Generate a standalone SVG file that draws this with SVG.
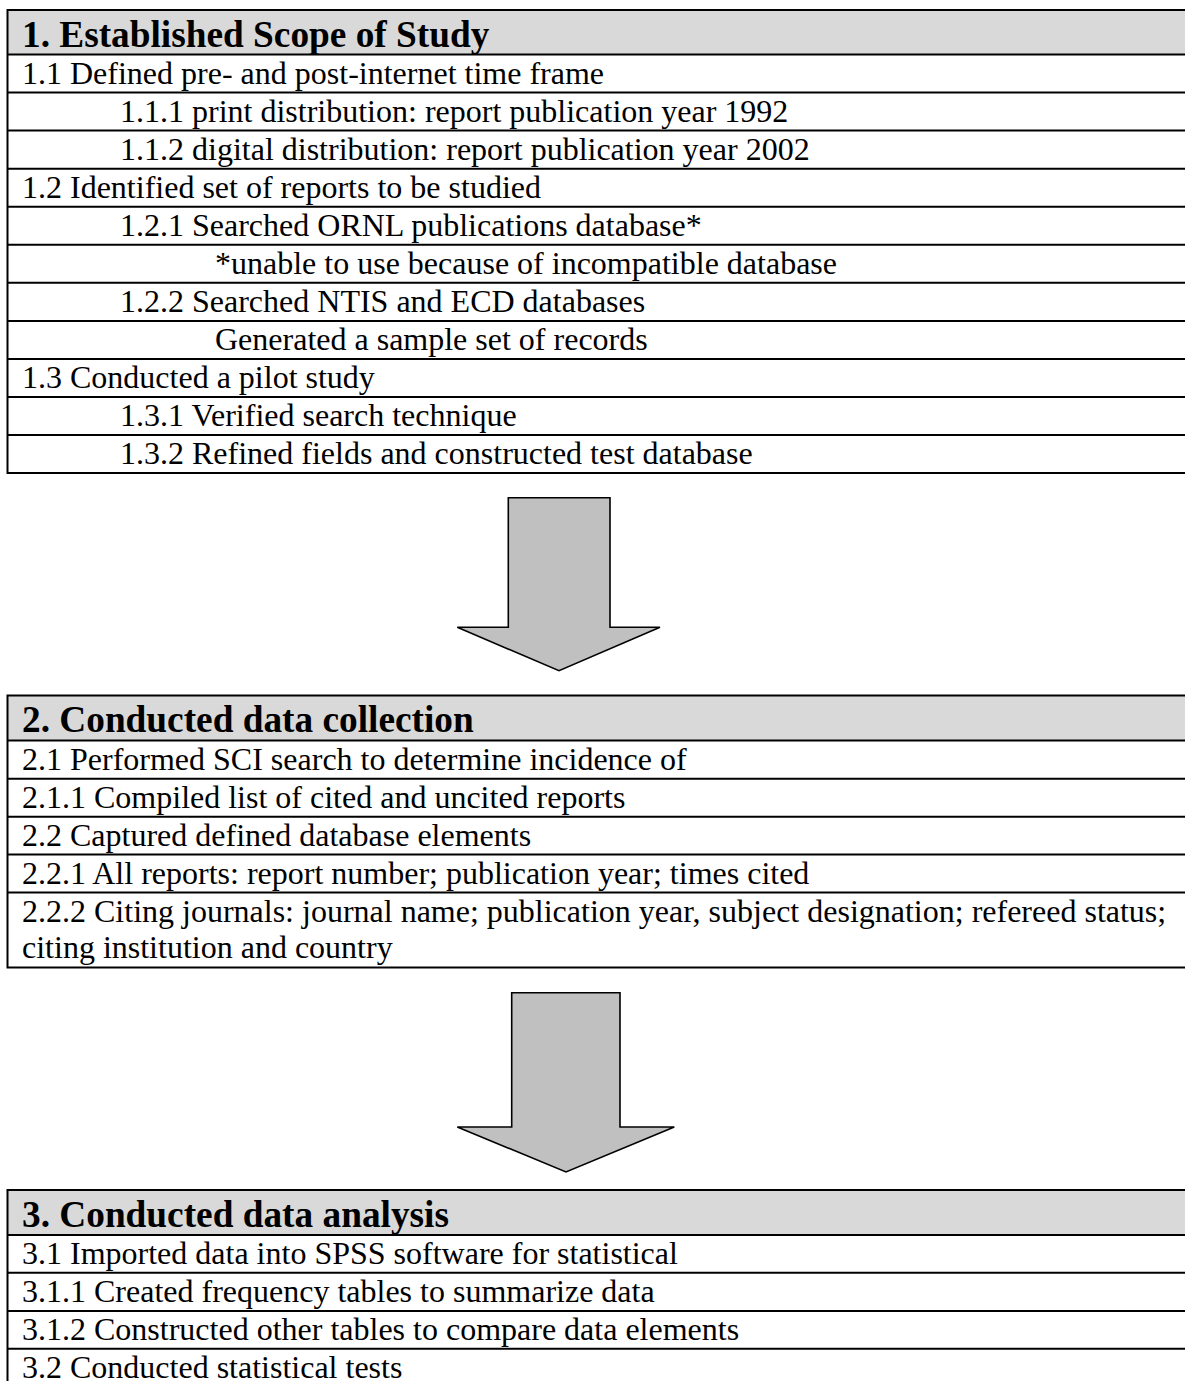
<svg xmlns="http://www.w3.org/2000/svg" width="1185" height="1381" viewBox="0 0 1185 1381">
<style>
.bg{fill:#ffffff}
.hdr{fill:#d9d9d9}
.ln{stroke:#000;stroke-width:2;fill:none}
.h{font-family:"Liberation Serif","Times New Roman",serif;font-weight:bold;font-size:37.3px;fill:#000}
.t{font-family:"Liberation Serif","Times New Roman",serif;font-size:32px;fill:#000}
.arrow{fill:#c0c0c0;stroke:#000;stroke-width:1.6;stroke-linejoin:miter}
</style>
<rect class="bg" x="0" y="0" width="1185" height="1381"/>

<g id="stage1">
<rect class="hdr" x="7.5" y="11" width="1178" height="43.5"/>
<path class="ln" d="M7.5 10H1185M7.5 54.5H1185M7.5 92.5H1185M7.5 130.6H1185M7.5 168.7H1185M7.5 206.7H1185M7.5 244.8H1185M7.5 282.8H1185M7.5 320.9H1185M7.5 358.9H1185M7.5 397H1185M7.5 435H1185M7.5 473H1185M7.5 9V474"/>
<text class="h" x="22" y="46.5">1. Established Scope of Study</text>
<text class="t" x="22" y="83.5">1.1 Defined pre- and post-internet time frame</text>
<text class="t" x="120" y="121.5">1.1.1 print distribution: report publication year 1992</text>
<text class="t" x="120" y="159.6">1.1.2 digital distribution: report publication year 2002</text>
<text class="t" x="22" y="197.6">1.2 Identified set of reports to be studied</text>
<text class="t" x="120" y="235.7">1.2.1 Searched ORNL publications database*</text>
<text class="t" x="215" y="273.7">*unable to use because of incompatible database</text>
<text class="t" x="120" y="311.8">1.2.2 Searched NTIS and ECD databases</text>
<text class="t" x="215" y="349.8">Generated a sample set of records</text>
<text class="t" x="22" y="387.9">1.3 Conducted a pilot study</text>
<text class="t" x="120" y="425.9">1.3.1 Verified search technique</text>
<text class="t" x="120" y="464">1.3.2 Refined fields and constructed test database</text>
</g>

<g id="stage2">
<rect class="hdr" x="7.5" y="696" width="1178" height="44.5"/>
<path class="ln" d="M7.5 695.5H1185M7.5 740.5H1185M7.5 778.7H1185M7.5 816.7H1185M7.5 854.6H1185M7.5 892.6H1185M7.5 967.6H1185M7.5 694.5V968.6"/>
<text class="h" x="22" y="732">2. Conducted data collection</text>
<text class="t" x="22" y="769.5">2.1 Performed SCI search to determine incidence of</text>
<text class="t" x="22" y="807.6">2.1.1 Compiled list of cited and uncited reports</text>
<text class="t" x="22" y="845.6">2.2 Captured defined database elements</text>
<text class="t" x="22" y="883.5">2.2.1 All reports: report number; publication year; times cited</text>
<text class="t" x="22" y="921.6">2.2.2 Citing journals: journal name; publication year, subject designation; refereed status;</text>
<text class="t" x="22" y="958.4">citing institution and country</text>
</g>

<g id="stage3">
<rect class="hdr" x="7.5" y="1190" width="1178" height="45"/>
<path class="ln" d="M7.5 1190H1185M7.5 1235H1185M7.5 1272.8H1185M7.5 1311H1185M7.5 1348.8H1185M7.5 1189V1381"/>
<text class="h" x="22" y="1226.5">3. Conducted data analysis</text>
<text class="t" x="22" y="1264">3.1 Imported data into SPSS software for statistical</text>
<text class="t" x="22" y="1301.8">3.1.1 Created frequency tables to summarize data</text>
<text class="t" x="22" y="1340">3.1.2 Constructed other tables to compare data elements</text>
<text class="t" x="22" y="1377.8">3.2 Conducted statistical tests</text>
</g>

<g id="connectors">
<polygon class="arrow" points="508.3,497.7 610,497.7 610,627.3 660,627.3 559,670.7 457.3,627.3 508.3,627.3"/>
<polygon class="arrow" points="511.7,992.7 620,992.7 620,1127 674.3,1127 566,1172 457.3,1127 511.7,1127"/>
</g>
</svg>
